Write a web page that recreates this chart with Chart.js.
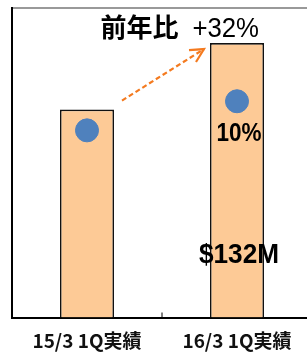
<!DOCTYPE html>
<html>
<head>
<meta charset="utf-8">
<script src="https://cdn.jsdelivr.net/npm/chart.js@4.4.0/dist/chart.umd.min.js"></script>
<style>
  html, body { margin: 0; padding: 0; background: #fff; overflow: hidden; }
  #wrap { width: 312px; height: 356px; }
</style>
</head>
<body>
<div id="wrap"><canvas id="salesChart" width="312" height="356"></canvas></div>
<script>
// =======================================
// DATA
// =======================================
const categories = ["15/3 1Q実績", "16/3 1Q実績"];
const salesValues = [100, 132];          // $M
const salesLabels = ["", "$132M"];
const marginDots = [90, 104];            // marker position on same scale
const marginLabels = ["", "10%"];
const yMax = 149;

const barFill = "#FDCA96";
const dotBlue = "#4F81BD";
const arrowOrange = "#F47A1F";

// draw text squeezed horizontally (source font is narrower than Arial)
function squeezedText(ctx, text, x, y, sx, align) {
  ctx.save();
  ctx.translate(x, y);
  ctx.scale(sx, 1);
  ctx.textAlign = align;
  ctx.fillText(text, 0, 0);
  ctx.restore();
}

// =======================================
// CUSTOM DRAWING (arrow, texts, tick)
// =======================================
const overlayPlugin = {
  id: "overlay",
  afterDatasetsDraw(chart) {
    const ctx = chart.ctx;
    const bars = chart.getDatasetMeta(1).data;
    const dots = chart.getDatasetMeta(0).data;
    const xScale = chart.scales.x;
    const area = chart.chartArea;

    // small tick between the categories
    const midX = (xScale.getPixelForValue(0) + xScale.getPixelForValue(1)) / 2;
    ctx.save();
    ctx.strokeStyle = "#000";
    ctx.lineWidth = 1;
    ctx.beginPath();
    ctx.moveTo(midX, area.bottom);
    ctx.lineTo(midX, area.bottom - 5);
    ctx.stroke();
    ctx.restore();

    // dashed arrow from bar 1 to bar 2
    const b1 = bars[0], b2 = bars[1];
    const sx = b1.x + b1.width / 2 + 8, sy = b1.y - 9;
    const ex = b2.x - b2.width / 2 - 6, ey = b2.y + 6;
    ctx.save();
    ctx.strokeStyle = arrowOrange;
    ctx.lineWidth = 2.2;
    ctx.setLineDash([5, 3]);
    ctx.beginPath();
    ctx.moveTo(sx, sy);
    ctx.lineTo(ex, ey);
    ctx.stroke();
    ctx.setLineDash([]);
    ctx.beginPath();
    ctx.moveTo(ex - 15, ey + 1);
    ctx.lineTo(ex, ey);
    ctx.lineTo(ex - 8, ey + 13);
    ctx.stroke();
    ctx.restore();

    // growth text above bar 2
    const growth = Math.round((salesValues[1] / salesValues[0] - 1) * 100);
    const pct = "+" + growth + "%";
    ctx.save();
    ctx.fillStyle = "#000";
    ctx.textBaseline = "alphabetic";
    const rightX = b2.x + b2.width / 2 - 5;
    const baseY = b2.y - 6;
    ctx.font = "28px 'Liberation Sans', Arial, sans-serif";
    const pctW = ctx.measureText(pct).width * 0.92;
    squeezedText(ctx, pct, rightX, baseY, 0.92, "right");
    ctx.font = "bold 26px 'Noto Sans CJK JP', sans-serif";
    squeezedText(ctx, "前年比", rightX - pctW - 14, baseY, 1, "right");
    ctx.restore();

    // dot labels + value labels
    ctx.save();
    ctx.fillStyle = "#000";
    dots.forEach((pt, i) => {
      if (!marginLabels[i]) return;
      ctx.font = "bold 25px 'Liberation Sans', Arial, sans-serif";
      squeezedText(ctx, marginLabels[i], pt.x + 2, pt.y + 40, 0.9, "center");
    });
    bars.forEach((bar, i) => {
      if (!salesLabels[i]) return;
      ctx.font = "bold 27px 'Liberation Sans', Arial, sans-serif";
      squeezedText(ctx, salesLabels[i], bar.x + 2, area.bottom - 55, 0.97, "center");
    });
    ctx.restore();
  },
};

// =======================================
// CHART
// =======================================
function initChart() {
  const canvas = document.getElementById("salesChart");
  new Chart(canvas.getContext("2d"), {
    type: "bar",
    data: {
      labels: categories,
      datasets: [
        {
          type: "scatter",
          data: marginDots.map((v, i) => ({ x: i, y: v })),
          backgroundColor: dotBlue,
          borderColor: dotBlue,
          pointRadius: 11.5,
          order: 0,
        },
        {
          data: salesValues,
          backgroundColor: barFill,
          borderColor: "#111",
          borderWidth: 1.6,
          barPercentage: 0.36,
          categoryPercentage: 1,
          order: 1,
        },
      ],
    },
    options: {
      responsive: false,
      animation: false,
      layout: { padding: 0, autoPadding: false },
      plugins: { legend: { display: false }, tooltip: { enabled: false } },
      scales: {
        x: {
          type: "category",
          offset: true,
          grid: { display: false, tickLength: 0 },
          border: { color: "#000", width: 2 },
          ticks: {
            color: "#111",
            padding: 12,
            font: { family: "'Noto Sans CJK JP', sans-serif", size: 19, weight: "bold" },
          },
          afterFit: (s) => { s.height = 38.5; },
        },
        xTop: {
          position: "top",
          type: "category",
          grid: { display: false },
          border: { color: "#999", width: 2 },
          ticks: { display: false },
          afterFit: (s) => { s.height = 7.7; },
        },
        y: {
          min: 0,
          max: yMax,
          grid: { display: false },
          border: { color: "#000", width: 2 },
          ticks: { display: false },
          afterFit: (s) => { s.width = 12; },
        },
      },
    },
    plugins: [overlayPlugin],
  });
}

document.addEventListener("DOMContentLoaded", () => {
  initChart();
});
</script>
</body>
</html>
